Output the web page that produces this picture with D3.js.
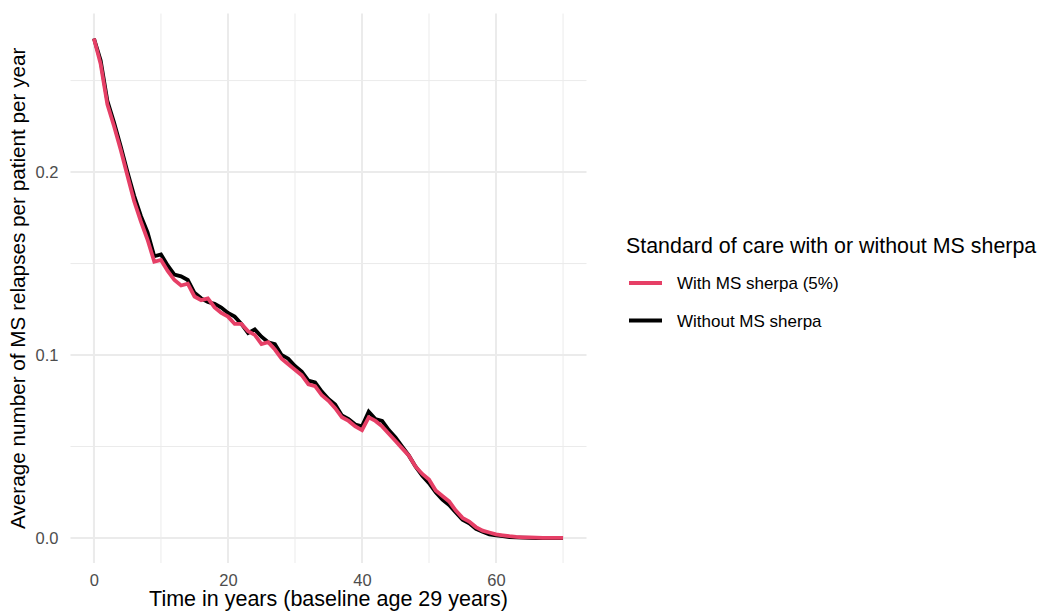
<!DOCTYPE html>
<html>
<head>
<meta charset="utf-8">
<script src="https://cdn.jsdelivr.net/npm/d3@7"></script>
<style>
  body { margin: 0; background: #fff; }
  svg { display: block; font-family: "Liberation Sans", Arial, sans-serif; }
</style>
</head>
<body>
<svg id="chart" width="1041" height="613"></svg>
<script>
// years 0..70
const years = d3.range(0, 71);

const withSherpa = [
  0.273, 0.259, 0.237, 0.225, 0.212, 0.198, 0.184, 0.173, 0.163, 0.151,
  0.152, 0.146, 0.141, 0.138, 0.139, 0.132, 0.130, 0.131, 0.126, 0.123,
  0.121, 0.117, 0.117, 0.113, 0.111, 0.106, 0.107, 0.103, 0.098, 0.095,
  0.092, 0.089, 0.084, 0.083, 0.078, 0.075, 0.071, 0.066, 0.064, 0.061,
  0.059, 0.066, 0.064, 0.061, 0.057, 0.053, 0.049, 0.045, 0.039, 0.035,
  0.032, 0.026, 0.023, 0.020, 0.015, 0.011, 0.009, 0.006, 0.004, 0.003,
  0.002, 0.0015, 0.001, 0.0006, 0.0004, 0.0003, 0.0002, 0.0001, 0.0001, 0.0001,
  0.0001
];

const withoutSherpa = [
  0.273, 0.261, 0.239, 0.227, 0.214, 0.200, 0.187, 0.176, 0.167, 0.154,
  0.155, 0.149, 0.144, 0.143, 0.141, 0.134, 0.131, 0.129, 0.128, 0.126,
  0.123, 0.121, 0.117, 0.112, 0.114, 0.110, 0.107, 0.106, 0.100, 0.098,
  0.094, 0.091, 0.086, 0.085, 0.080, 0.076, 0.073, 0.067, 0.065, 0.062,
  0.061, 0.069, 0.065, 0.064, 0.059, 0.055, 0.050, 0.045, 0.039, 0.034,
  0.030, 0.025, 0.021, 0.018, 0.014, 0.010, 0.008, 0.005, 0.0035, 0.002,
  0.0015, 0.001, 0.0005, 0.0003, 0.0002, 0.0001, 0, 0, 0, 0,
  0
];

const xTicks = [0, 20, 40, 60];
const xMinor = [10, 30, 50, 70];
const yTicks = [0, 0.1, 0.2];
const yMinor = [0.05, 0.15, 0.25];

const seriesNames = ['With MS sherpa (5%)', 'Without MS sherpa'];
const seriesColours = ['#e63f66', '#000000'];

const margin = { top: 13.5, right: 454.5, bottom: 50, left: 70.5 };
const width = 1041 - margin.left - margin.right;
const height = 613 - margin.top - margin.bottom;

const svg = d3.select('#chart');
const chart = svg.append('g')
  .attr('transform', `translate(${margin.left},${margin.top})`);

const xScale = d3.scaleLinear().domain([-3.5, 73.5]).range([0, width]);
const yScale = d3.scaleLinear().domain([-0.01365, 0.28665]).range([height, 0]);

// grid
const grid = chart.append('g');
grid.selectAll('.vminor').data(xMinor).join('line')
  .attr('x1', d => xScale(d)).attr('x2', d => xScale(d))
  .attr('y1', 0).attr('y2', height)
  .attr('stroke', '#ebebeb').attr('stroke-width', 1);
grid.selectAll('.hminor').data(yMinor).join('line')
  .attr('y1', d => yScale(d)).attr('y2', d => yScale(d))
  .attr('x1', 0).attr('x2', width)
  .attr('stroke', '#ebebeb').attr('stroke-width', 1);
grid.selectAll('.vmajor').data(xTicks).join('line')
  .attr('x1', d => xScale(d)).attr('x2', d => xScale(d))
  .attr('y1', 0).attr('y2', height)
  .attr('stroke', '#ebebeb').attr('stroke-width', 2);
grid.selectAll('.hmajor').data(yTicks).join('line')
  .attr('y1', d => yScale(d)).attr('y2', d => yScale(d))
  .attr('x1', 0).attr('x2', width)
  .attr('stroke', '#ebebeb').attr('stroke-width', 2);

// axes
const xAxis = d3.axisBottom(xScale).tickValues(xTicks).tickSize(0).tickPadding(11);
const yAxis = d3.axisLeft(yScale).tickValues(yTicks).tickSize(0).tickPadding(12)
  .tickFormat(d3.format('.1f'));

chart.append('g')
  .attr('transform', `translate(0,${height})`)
  .call(xAxis)
  .call(g => g.select('.domain').remove())
  .call(g => g.selectAll('text').attr('fill', '#4d4d4d').attr('font-size', 16.5).attr('font-family', null));

chart.append('g')
  .call(yAxis)
  .call(g => g.select('.domain').remove())
  .call(g => g.selectAll('text').attr('fill', '#4d4d4d').attr('font-size', 16.5).attr('font-family', null));

// lines
const line = d3.line()
  .x((d, i) => xScale(years[i]))
  .y(d => yScale(d));

chart.append('path')
  .datum(withoutSherpa)
  .attr('fill', 'none')
  .attr('stroke', seriesColours[1])
  .attr('stroke-width', 3.8)
  .attr('d', line);

chart.append('path')
  .datum(withSherpa)
  .attr('fill', 'none')
  .attr('stroke', seriesColours[0])
  .attr('stroke-width', 3.8)
  .attr('d', line);

// axis titles
svg.append('text')
  .attr('x', margin.left + width / 2)
  .attr('y', 606)
  .attr('text-anchor', 'middle')
  .attr('font-size', 21.5)
  .attr('fill', '#000')
  .text('Time in years (baseline age 29 years)');

svg.append('text')
  .attr('transform', `translate(25,${margin.top + height / 2}) rotate(-90)`)
  .attr('text-anchor', 'middle')
  .attr('font-size', 20.7)
  .attr('fill', '#000')
  .text('Average number of MS relapses per patient per year');

// legend
const legend = svg.append('g').attr('transform', 'translate(626,0)');
legend.append('text')
  .attr('x', 0).attr('y', 253)
  .attr('font-size', 21.4)
  .attr('fill', '#000')
  .text('Standard of care with or without MS sherpa');

const items = legend.selectAll('.item').data(seriesNames).join('g')
  .attr('transform', (d, i) => `translate(0,${283 + i * 37.5})`);
items.append('line')
  .attr('x1', 3).attr('x2', 36)
  .attr('stroke', (d, i) => seriesColours[i])
  .attr('stroke-width', 3.8);
items.append('text')
  .attr('x', 51).attr('y', 6)
  .attr('font-size', 17)
  .attr('fill', '#000')
  .text(d => d);
</script>
</body>
</html>
